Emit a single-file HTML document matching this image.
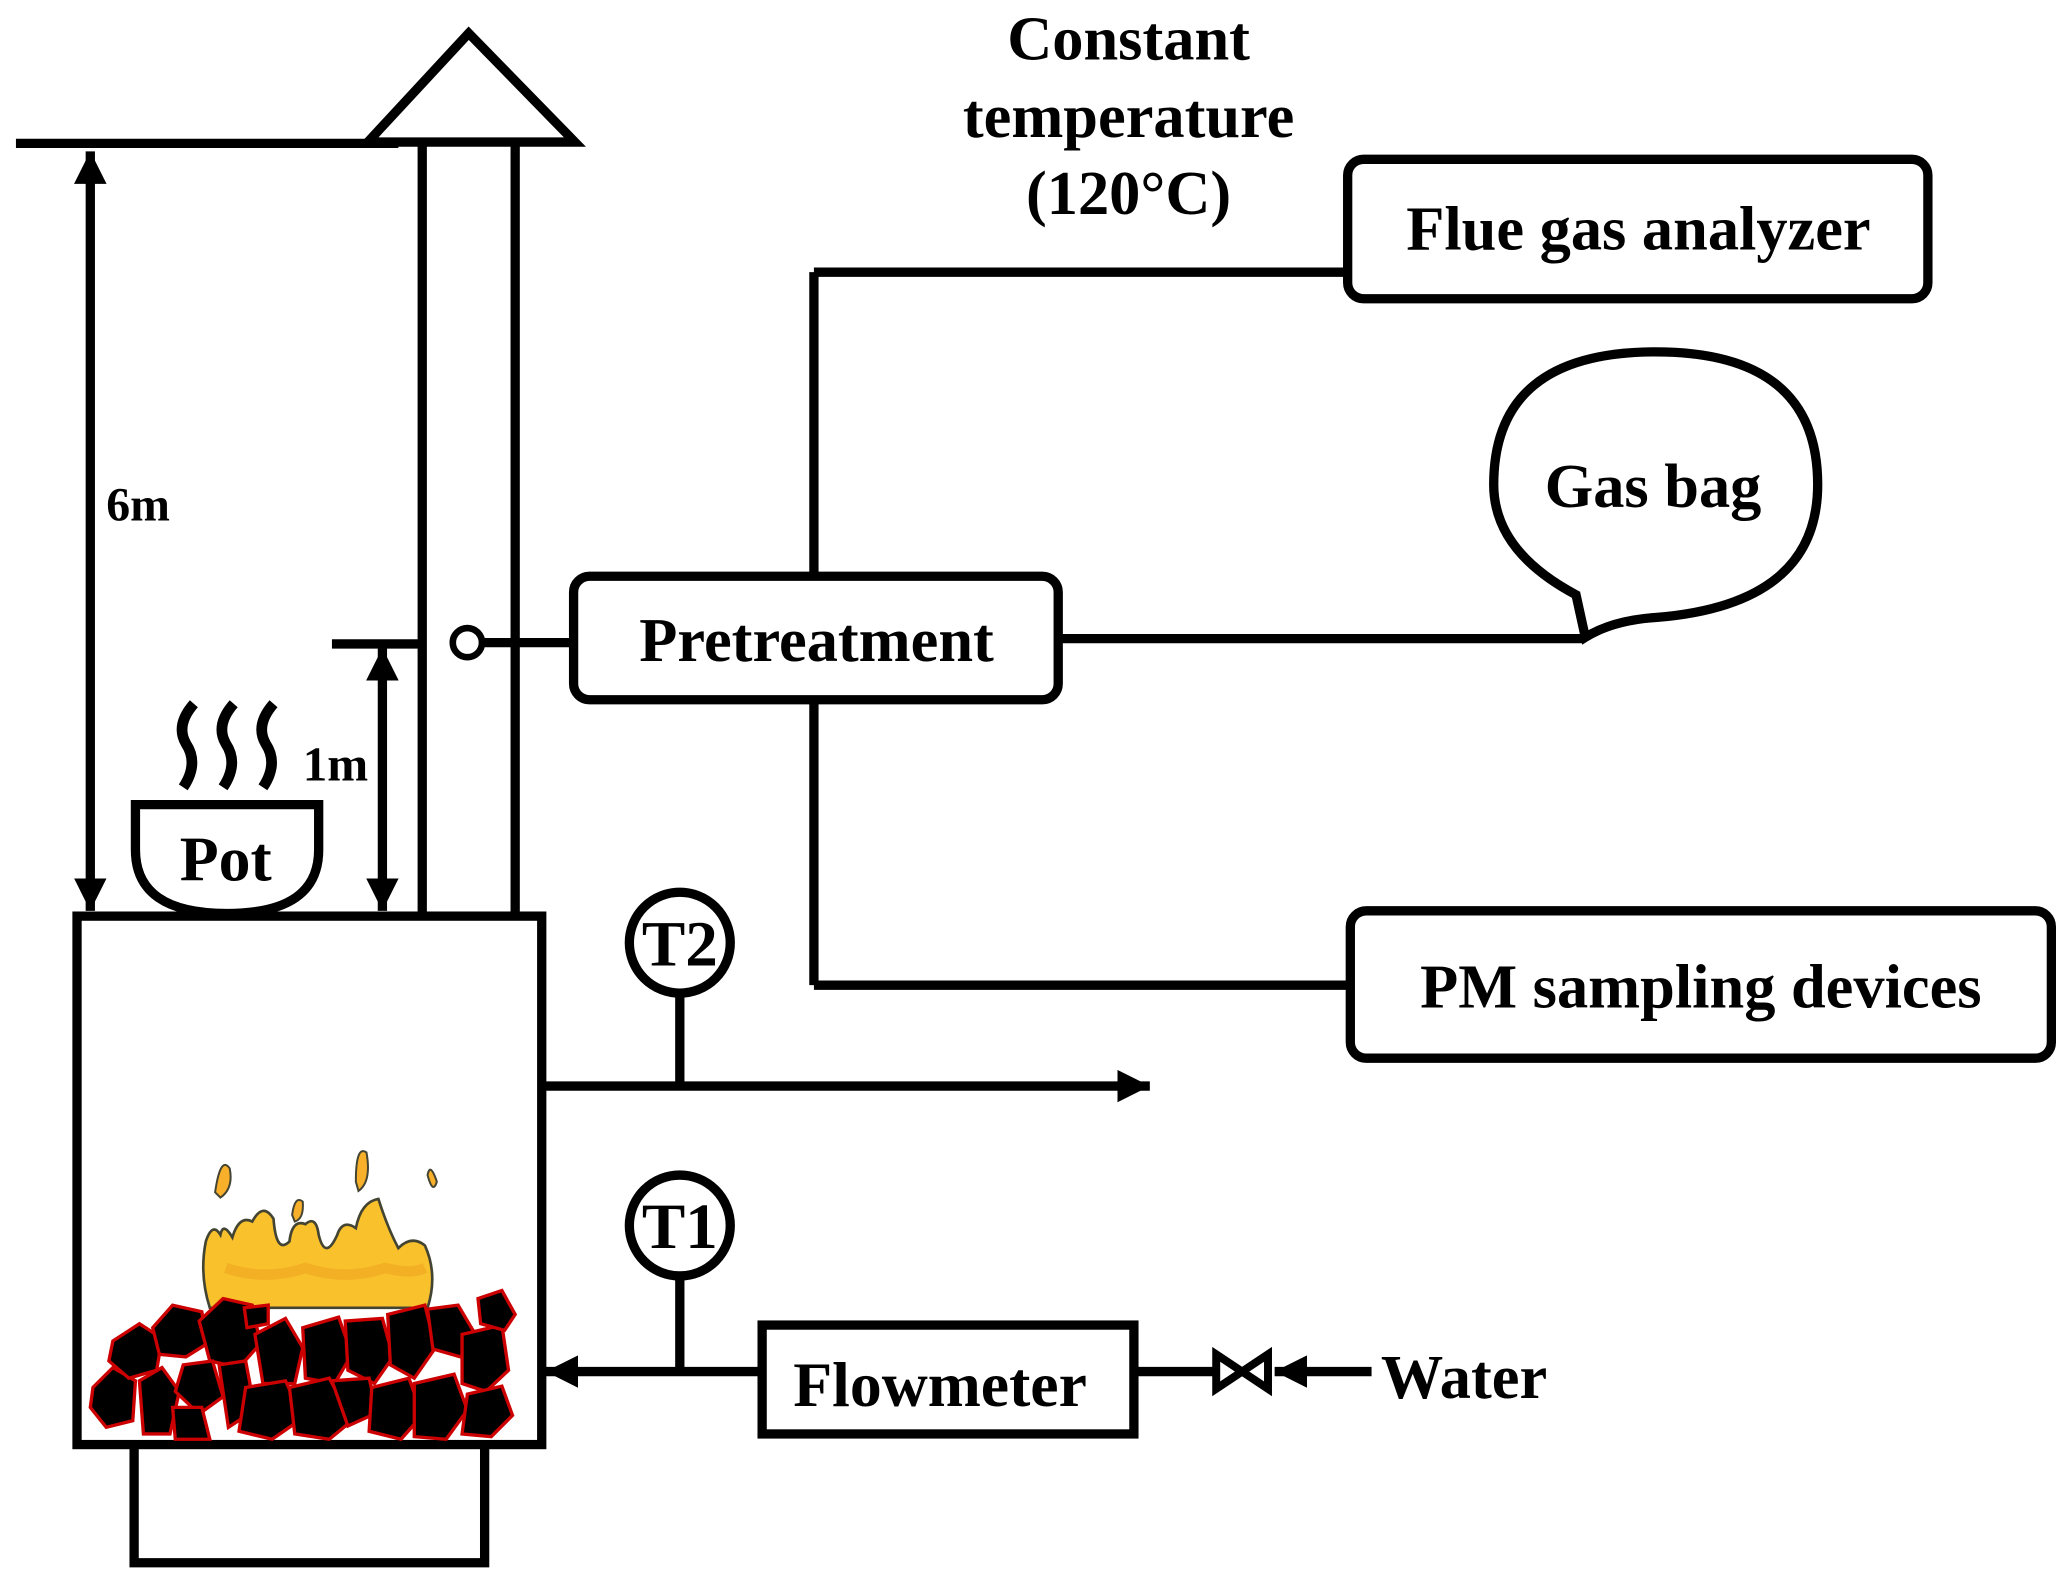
<!DOCTYPE html>
<html><head><meta charset="utf-8"><style>
html,body{margin:0;padding:0;background:#fff;width:2062px;height:1580px;overflow:hidden}
svg{display:block}
text{font-family:"Liberation Serif",serif;font-weight:bold;fill:#000}
</style></head><body>
<svg width="2062" height="1580" viewBox="0 0 1553 1190" xmlns="http://www.w3.org/2000/svg">
<defs>
<marker id="ah" viewBox="0 0 10 10" refX="10" refY="5" markerWidth="3.5" markerHeight="3.5" orient="auto-start-reverse" markerUnits="strokeWidth">
<path d="M0,0 L10,5 L0,10 Z" fill="#000"/></marker>
</defs>
<g stroke="#000" stroke-width="7" fill="none">
<line x1="12" y1="108" x2="300" y2="108"/>
<polygon points="353,25 277,107 433,107" stroke-linejoin="miter"/>
<line x1="318" y1="108" x2="318" y2="690"/>
<line x1="388" y1="108" x2="388" y2="690"/>
<line x1="68" y1="114" x2="68" y2="686" marker-start="url(#ah)" marker-end="url(#ah)"/>
<line x1="250" y1="485" x2="318" y2="485"/>
<line x1="288" y1="488" x2="288" y2="686" marker-start="url(#ah)" marker-end="url(#ah)"/>
<path d="M102,606 L240,606 L240,640 Q240,688 171,688 Q102,688 102,640 Z"/>
<g stroke-width="8">
<path d="M146,530 Q132,546 140,560 Q150,575 138,593"/>
<path d="M176,530 Q162,546 170,560 Q180,575 168,593"/>
<path d="M206,530 Q192,546 200,560 Q210,575 198,593"/>
</g>
<rect x="58" y="690" width="350" height="398"/>
<polyline points="101,1088 101,1177 365,1177 365,1088"/>
<circle cx="352" cy="484" r="11" fill="#fff" stroke-width="5"/>
<line x1="363" y1="484" x2="432" y2="484"/>
<rect x="432" y="434" width="365" height="93" rx="12"/>
<line x1="613" y1="434" x2="613" y2="205"/>
<line x1="613" y1="205" x2="1015" y2="205"/>
<line x1="613" y1="527" x2="613" y2="742"/>
<line x1="613" y1="742" x2="1017" y2="742"/>
<rect x="1015" y="120" width="437" height="105" rx="12"/>
<rect x="1017" y="686" width="528" height="111" rx="12"/>
<line x1="797" y1="481" x2="1192" y2="481"/>
<path d="M1187,448 Q1125,415 1125,365 Q1125,265 1247,265 Q1369,265 1369,365 Q1369,455 1248,465 Q1215,467 1194,480 Z"/>
<circle cx="512" cy="710" r="38"/>
<line x1="512" y1="748" x2="512" y2="818"/>
<line x1="408" y1="818" x2="866" y2="818" marker-end="url(#ah)"/>
<circle cx="512" cy="923" r="38"/>
<line x1="512" y1="961" x2="512" y2="1033"/>
<line x1="574" y1="1033" x2="411" y2="1033" marker-end="url(#ah)"/>
<rect x="574" y="998" width="280" height="82"/>
<line x1="854" y1="1033" x2="915" y2="1033"/>
<path d="M916,1020 L955,1046 L955,1020 L916,1046 Z" stroke-width="6"/>
<line x1="1033" y1="1033" x2="960" y2="1033" marker-end="url(#ah)"/>
</g>
<!-- flame -->
<path d="M158,985 Q150,960 155,935 Q160,920 166,930 Q168,920 175,932 Q180,915 190,920 Q198,905 206,918 Q208,945 218,935 Q220,918 230,922 Q238,915 240,930 Q245,950 254,930 Q258,918 268,925 Q272,905 285,903 Q292,925 300,940 Q310,930 320,938 Q330,960 322,985 Z" fill="#f9c12b" stroke="#443" stroke-width="2"/>
<path d="M170,955 Q200,965 230,955 Q260,965 290,955 Q310,960 320,955" stroke="#f0a020" stroke-width="8" fill="none" opacity="0.5"/>
<path d="M162,898 Q166,870 173,880 Q176,895 166,902 Z M268,890 Q268,862 276,868 Q280,890 270,897 Z M322,885 Q324,875 329,890 Q326,900 322,885 Z M220,915 Q222,900 228,905 Q229,918 222,920 Z" fill="#f8b02a" stroke="#443" stroke-width="1.5"/>
<!-- coals -->
<g fill="#000" stroke="#c00" stroke-width="2.5">
<polygon points="70,1045 85,1030 102,1040 100,1070 80,1075 68,1060"/>
<polygon points="85,1010 105,997 122,1008 118,1032 97,1038 82,1025"/>
<polygon points="105,1040 122,1030 135,1048 128,1080 108,1080"/>
<polygon points="115,1000 130,983 152,988 156,1012 140,1022 120,1020"/>
<polygon points="150,995 168,978 190,983 196,1012 180,1030 158,1025"/>
<polygon points="138,1028 160,1025 168,1052 150,1065 132,1048"/>
<polygon points="165,1028 185,1025 192,1062 172,1075"/>
<polygon points="130,1060 152,1060 158,1084 132,1084"/>
<polygon points="192,1005 215,993 228,1015 222,1042 198,1042"/>
<polygon points="185,1045 215,1040 228,1068 205,1084 180,1078"/>
<polygon points="228,1000 255,992 265,1020 252,1042 230,1038"/>
<polygon points="218,1045 248,1038 265,1070 248,1084 222,1080"/>
<polygon points="260,995 288,993 296,1022 282,1042 262,1032"/>
<polygon points="250,1040 278,1038 284,1064 262,1074"/>
<polygon points="292,990 320,983 328,1015 312,1038 294,1028"/>
<polygon points="280,1045 308,1038 318,1066 302,1084 278,1078"/>
<polygon points="322,986 345,983 358,1005 347,1022 326,1016"/>
<polygon points="348,1005 378,998 383,1032 366,1048 348,1042"/>
<polygon points="312,1042 342,1035 352,1062 336,1084 312,1082"/>
<polygon points="352,1050 378,1044 386,1066 370,1082 348,1080"/>
<polygon points="360,978 378,972 388,990 380,1002 362,997"/>
<polygon points="184,985 202,983 202,997 186,1000"/>
</g>
<text x="80" y="392" font-size="36">6m</text>
<text x="228" y="588" font-size="37">1m</text>
<text x="170" y="663" font-size="48" text-anchor="middle">Pot</text>
<text x="850" y="45" font-size="47" text-anchor="middle">Constant</text>
<text x="850" y="103" font-size="47" text-anchor="middle">temperature</text>
<text x="850" y="161" font-size="47" text-anchor="middle">(120°C)</text>
<text x="615" y="498" font-size="47" text-anchor="middle">Pretreatment</text>
<text x="1234" y="188" font-size="47" text-anchor="middle">Flue gas analyzer</text>
<text x="1245" y="382" font-size="47" text-anchor="middle">Gas bag</text>
<text x="1281" y="759" font-size="47" text-anchor="middle">PM sampling devices</text>
<text x="512" y="727" font-size="49" text-anchor="middle">T2</text>
<text x="512" y="940" font-size="49" text-anchor="middle">T1</text>
<text x="708" y="1059" font-size="48" text-anchor="middle">Flowmeter</text>
<text x="1040" y="1053" font-size="47">Water</text>
</svg>
</body></html>
